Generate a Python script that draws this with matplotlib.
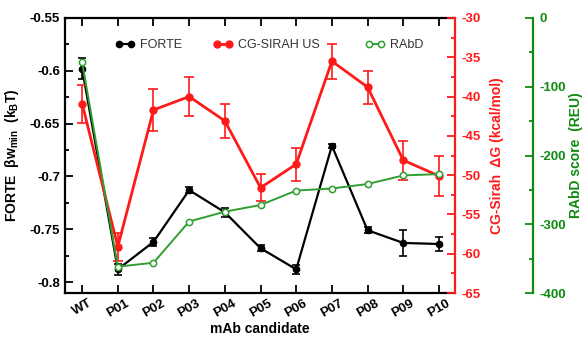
import matplotlib
matplotlib.use("Agg")
import matplotlib.pyplot as plt
from matplotlib.ticker import MultipleLocator
from matplotlib.legend import Legend
from matplotlib.lines import Line2D

plt.rcParams['font.family'] = ['Liberation Sans', 'DejaVu Sans']
plt.rcParams['axes.unicode_minus'] = False
plt.rcParams['mathtext.fontset'] = 'custom'
plt.rcParams['mathtext.bf'] = 'Liberation Sans:bold'
plt.rcParams['mathtext.rm'] = 'Liberation Sans:bold'
plt.rcParams['mathtext.default'] = 'bf'

categories = ['WT', 'P01', 'P02', 'P03', 'P04', 'P05', 'P06', 'P07', 'P08', 'P09', 'P10']

forte = [-0.598, -0.788, -0.762, -0.713, -0.734, -0.768, -0.788, -0.671, -0.751, -0.763, -0.764]
forte_err = [0.010, 0.005, 0.004, 0.003, 0.004, 0.003, 0.004, 0.002, 0.003, 0.012, 0.007]

sirah = [-40.9, -59.1, -41.7, -40.0, -43.1, -51.6, -48.6, -35.5, -38.8, -48.1, -50.1]
sirah_err = [2.4, 1.8, 2.7, 2.5, 2.2, 1.7, 2.1, 2.2, 2.1, 2.5, 2.6]

rabd = [-64.5, -361.7, -356, -296, -281.7, -272, -251, -248, -241.5, -229, -227]

BLACK = 'black'
RED = '#ff1a1a'
GREEN_LINE = '#2f9f2f'
GREEN_AX = '#108a10'

fig = plt.figure(figsize=(5.88, 3.39), dpi=100)
ax = fig.add_axes([65/588, 46/339, 390/588, 275/339])
ax2 = ax.twinx()
ax3 = ax.twinx()

x = list(range(len(categories)))

ax.errorbar(x, forte, yerr=forte_err, color=BLACK, marker='o', ms=4.5, lw=1.6,
            capsize=3, elinewidth=1.2, capthick=1.2)
ax2.errorbar(x, sirah, yerr=sirah_err, color=RED, marker='o', ms=5, lw=2.0,
             capsize=3.5, elinewidth=1.2, capthick=1.2)
ax3.plot(x, rabd, color=GREEN_LINE, marker='o', ms=4.5, mfc='white', mec=GREEN_LINE,
         mew=1.1, lw=1.4)

ax.set_xlim(-0.48, 10.45)
ax.set_ylim(-0.8104, -0.55)
ax2.set_ylim(-65, -30)
ax3.set_ylim(-400, 0)

ax.set_xticks(x)
ax.set_xticklabels(categories, rotation=30, ha='center', fontsize=9.5, fontweight='bold')
ax.yaxis.set_minor_locator(MultipleLocator(0.025))
ax.set_yticks([-0.55, -0.6, -0.65, -0.7, -0.75, -0.8])
ax.set_yticklabels(['-0.55', '-0.6', '-0.65', '-0.7', '-0.75', '-0.8'], fontsize=9.5, fontweight='bold')
ax.tick_params(axis='x', direction='in', top=True, length=6, width=1.3, pad=3)
ax.tick_params(axis='y', which='major', direction='in', length=6, width=1.3, right=False)
ax.tick_params(axis='y', which='minor', direction='in', length=3, width=1.3, right=False)

ax2.yaxis.set_major_locator(MultipleLocator(5))
ax2.yaxis.set_minor_locator(MultipleLocator(2.5))
ax2.tick_params(axis='y', which='major', direction='in', length=6, width=1.3, colors=RED, labelsize=9.5, pad=5)
ax2.tick_params(axis='y', which='minor', direction='in', length=3, width=1.3, colors=RED)
for t in ax2.get_yticklabels():
    t.set_fontweight('bold')

ax3.spines['right'].set_position(('axes', 1.2))
ax3.yaxis.set_major_locator(MultipleLocator(100))
ax3.yaxis.set_minor_locator(MultipleLocator(50))
ax3.tick_params(axis='y', which='major', direction='in', length=6, width=1.3, colors=GREEN_AX, labelsize=9.5, pad=5)
ax3.tick_params(axis='y', which='minor', direction='in', length=3, width=1.3, colors=GREEN_AX)
for t in ax3.get_yticklabels():
    t.set_fontweight('bold')

for a in (ax, ax2, ax3):
    for s in a.spines.values():
        s.set_linewidth(1.6)
for a in (ax2, ax3):
    a.spines['left'].set_visible(False)
    a.spines['top'].set_visible(False)
    a.spines['bottom'].set_visible(False)
ax.spines['right'].set_visible(False)
ax2.spines['right'].set_color(RED)
ax3.spines['right'].set_color(GREEN_AX)

ax.set_xlabel('mAb candidate', fontsize=10, fontweight='bold', labelpad=2)
ax.set_ylabel('FORTE  β$\\mathbf{w_{min}}$  (k$_\\mathbf{B}$T)', fontsize=10, fontweight='bold', labelpad=6)
ax2.set_ylabel('CG-Sirah  ΔG (kcal/mol)', fontsize=10, fontweight='bold', color=RED, labelpad=6)
ax3.set_ylabel('RAbD score  (REU)', fontsize=10, fontweight='bold', color=GREEN_AX, labelpad=2)

# legends
h_f = Line2D([], [], color=BLACK, marker='o', ms=4.5, lw=1.6)
h_s = Line2D([], [], color=RED, marker='o', ms=5, lw=2.0)
h_r = Line2D([], [], color=GREEN_LINE, marker='o', ms=4.5, mfc='white', mec=GREEN_LINE, mew=1.1, lw=1.4)

def add_leg(handle, label, xa):
    lg = Legend(ax3, [handle], [label], loc='center left', bbox_to_anchor=(xa, 0.902),
                frameon=False, numpoints=2, handlelength=1.6, handletextpad=0.4,
                borderpad=0, borderaxespad=0, prop={'size': 9})
    for t in lg.get_texts():
        t.set_color('#333333')
    ax3.add_artist(lg)

add_leg(h_f, 'FORTE', 0.128)
add_leg(h_s, 'CG-SIRAH US', 0.379)
add_leg(h_r, 'RAbD', 0.769)

fig.savefig('out.png', dpi=100)
